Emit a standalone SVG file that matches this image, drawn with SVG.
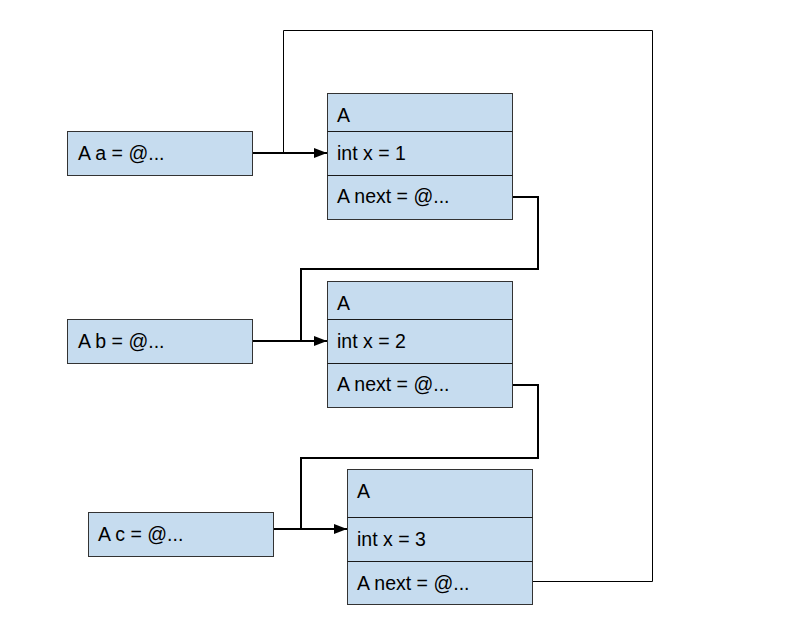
<svg xmlns="http://www.w3.org/2000/svg" width="812" height="631" viewBox="0 0 812 631">
  <defs>
    <style>
      .box { fill: #c6dcef; stroke: #333333; stroke-width: 1; }
      .div { stroke: #1a1a1a; stroke-width: 1; fill: none; }
      .t { font-family: "Liberation Sans", Arial, sans-serif; font-size: 19.5px; fill: #000000; }
      .thick { fill: none; stroke: #000000; stroke-width: 2; }
      .thin { fill: none; stroke: #000000; stroke-width: 1; }
    </style>
    <marker id="arrow" markerWidth="14" markerHeight="11" refX="13" refY="5.5" orient="auto" markerUnits="userSpaceOnUse">
      <path d="M0,0.5 L13,5.5 L0,10.5 Z" fill="#000000"/>
    </marker>
  </defs>
  <rect x="0" y="0" width="812" height="631" fill="#ffffff"/>

  <g id="connectors">
    <path class="thin" d="M532.5,581.5 H652.5 V30.5 H283.5 V153"/>
    <path class="thick" d="M252,153 H327" marker-end="url(#arrow)"/>
    <path class="thick" d="M512,197 H538 V269 H301 V341"/>
    <path class="thick" d="M252,341 H327" marker-end="url(#arrow)"/>
    <path class="thick" d="M512,385 H538 V458 H301 V529"/>
    <path class="thick" d="M273,529 H347" marker-end="url(#arrow)"/>
  </g>

  <g id="var-a">
    <rect class="box" x="67.5" y="131.5" width="185" height="44"/>
    <text class="t" x="78" y="160">A a = @...</text>
  </g>
  <g id="var-b">
    <rect class="box" x="67.5" y="319.5" width="185" height="44"/>
    <text class="t" x="78" y="348">A b = @...</text>
  </g>
  <g id="var-c">
    <rect class="box" x="88.5" y="512.5" width="185" height="44"/>
    <text class="t" x="98" y="541">A c = @...</text>
  </g>

  <g id="obj-1">
    <rect class="box" x="327.5" y="93.5" width="185" height="126"/>
    <path class="div" d="M327.5,131.5 H512.5 M327.5,175.5 H512.5"/>
    <text class="t" x="337" y="122">A</text>
    <text class="t" x="337" y="160">int x = 1</text>
    <text class="t" x="337" y="203">A next = @...</text>
  </g>
  <g id="obj-2">
    <rect class="box" x="327.5" y="281.5" width="185" height="126"/>
    <path class="div" d="M327.5,319.5 H512.5 M327.5,363.5 H512.5"/>
    <text class="t" x="337" y="310">A</text>
    <text class="t" x="337" y="348">int x = 2</text>
    <text class="t" x="337" y="391">A next = @...</text>
  </g>
  <g id="obj-3">
    <rect class="box" x="347.5" y="469.5" width="185" height="135"/>
    <path class="div" d="M347.5,517.5 H532.5 M347.5,561.5 H532.5"/>
    <text class="t" x="357" y="498">A</text>
    <text class="t" x="357" y="546">int x = 3</text>
    <text class="t" x="357" y="590">A next = @...</text>
  </g>
</svg>
